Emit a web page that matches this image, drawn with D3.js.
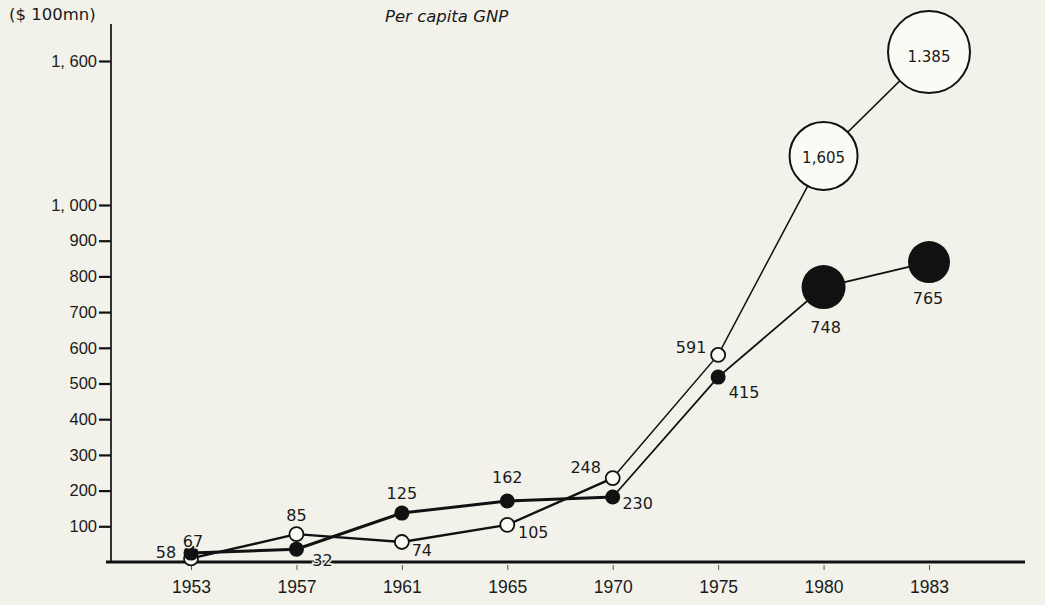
<!DOCTYPE html>
<html>
<head>
<meta charset="utf-8">
<script src="https://cdn.jsdelivr.net/npm/d3@7"></script>
<style>
  html, body { margin: 0; padding: 0; background: #f2f2eb; }
  svg { display: block; font-family: "DejaVu Sans", sans-serif; }
</style>
</head>
<body>
<div id="chart"></div>
<script>
// years along the bottom (evenly spaced, not a time scale)
const years = ["1953", "1957", "1961", "1965", "1970", "1975", "1980", "1983"];

// plotted heights (the printed labels don't sit exactly on them)
const openVals = [10, 78, 56, 104, 235, 580, 1204, 1637];
const solidVals = [25, 36, 137, 171, 182, 518, 770, 840];

// labels as printed
const openLabels = ["67", "85", "74", "105", "248", "591", "1,605", "1.385"];
const solidLabels = ["58", "32", "125", "162", "230", "415", "748", "765"];

// y axis is broken above 1,000
const yTicks = [100, 200, 300, 400, 500, 600, 700, 800, 900, 1000, 1600];
const yTickText = ["100", "200", "300", "400", "500", "600", "700", "800", "900", "1, 000", "1, 600"];

const width = 1045, height = 605;
const margin = {top: 28, right: 20, bottom: 43, left: 111};
const bg = "#f2f2eb";

const x = d3.scalePoint()
  .domain(years)
  .range([191, 929]);

const y = d3.scaleLinear()
  .domain([0, 1000, 1600])
  .range([height - margin.bottom, 205, 61]);

const svg = d3.select("#chart")
  .append("svg")
  .attr("width", width)
  .attr("height", height)
  .attr("viewBox", [0, 0, width, height]);

// axes
const y0 = y(0);
svg.append("line")
  .attr("x1", margin.left).attr("x2", margin.left)
  .attr("y1", margin.top - 4).attr("y2", y0)
  .attr("stroke", "#111").attr("stroke-width", 1.7);
svg.append("line")
  .attr("x1", margin.left - 5).attr("x2", width - margin.right)
  .attr("y1", y0).attr("y2", y0)
  .attr("stroke", "#111").attr("stroke-width", 2.8);

const yAxis = d3.axisLeft(y)
  .tickValues(yTicks)
  .tickSize(12)
  .tickPadding(2)
  .tickFormat((d, i) => yTickText[i]);

svg.append("g")
  .attr("transform", `translate(${margin.left},0)`)
  .call(yAxis)
  .call(g => g.select(".domain").remove())
  .call(g => g.selectAll(".tick line").attr("stroke", "#111").attr("stroke-width", 2.2))
  .call(g => g.selectAll(".tick text")
    .attr("fill", "#1a1a1a")
    .attr("font-size", 16.5));

const xAxis = d3.axisBottom(x)
  .tickSize(5)
  .tickPadding(11);

svg.append("g")
  .attr("transform", `translate(0,${y0 + 3})`)
  .call(xAxis)
  .call(g => g.select(".domain").remove())
  .call(g => g.selectAll(".tick line").attr("stroke", "#555").attr("stroke-width", 1))
  .call(g => g.selectAll(".tick text")
    .attr("fill", "#1a1a1a")
    .attr("font-size", 17.5));

// unit + title
svg.append("text")
  .attr("x", 9).attr("y", 20)
  .attr("font-size", 16.5)
  .attr("fill", "#1a1a1a")
  .text("($ 100mn)");

svg.append("text")
  .attr("x", 385).attr("y", 22)
  .attr("font-size", 16.5)
  .attr("font-style", "italic")
  .attr("fill", "#1a1a1a")
  .text("Per capita GNP");

// series
const openData = years.map((yr, i) => ({yr, v: openVals[i], label: openLabels[i], i}));
const solidData = years.map((yr, i) => ({yr, v: solidVals[i], label: solidLabels[i], i}));

// small markers except the last two years, which get big circles
const openR = d => d.yr === "1983" ? 41 : d.yr === "1980" ? 34 : 7;
const solidR = d => d.yr === "1983" ? 21 : d.yr === "1980" ? 22 : 7.5;

const line = d3.line()
  .x(d => x(d.yr))
  .y(d => y(d.v));

// solid series: heavier up to 1970, thinner after
svg.append("path")
  .datum(solidData.slice(0, 5))
  .attr("d", line)
  .attr("fill", "none")
  .attr("stroke", "#111")
  .attr("stroke-width", 3);
svg.append("path")
  .datum(solidData.slice(4))
  .attr("d", line)
  .attr("fill", "none")
  .attr("stroke", "#111")
  .attr("stroke-width", 1.8);

svg.append("path")
  .datum(openData.slice(0, 5))
  .attr("d", line)
  .attr("fill", "none")
  .attr("stroke", "#111")
  .attr("stroke-width", 2.4);
svg.append("path")
  .datum(openData.slice(4))
  .attr("d", line)
  .attr("fill", "none")
  .attr("stroke", "#111")
  .attr("stroke-width", 1.5);

svg.append("g")
  .selectAll("circle")
  .data(openData)
  .join("circle")
  .attr("cx", d => x(d.yr))
  .attr("cy", d => y(d.v))
  .attr("r", openR)
  .attr("fill", "#fbfbf6")
  .attr("stroke", "#111")
  .attr("stroke-width", d => d.i >= 6 ? 2 : 1.8);

svg.append("g")
  .selectAll("circle")
  .data(solidData)
  .join("circle")
  .attr("cx", d => x(d.yr))
  .attr("cy", d => y(d.v))
  .attr("r", solidR)
  .attr("fill", "#111");

// label offsets from each marker (dx, dy to text centre)
const openOff = [[2, -17], [0, -19], [20, 8], [26, 8], [-27, -11], [-27, -7], [0, 2], [0, 5]];
const solidOff = [[-25, -1], [26, 11], [0, -20], [0, -23], [25, 6], [26, 15], [2, 40], [-1, 36]];

const labelText = (data, off) => svg.append("g")
  .selectAll("text")
  .data(data)
  .join("text")
  .attr("x", d => x(d.yr) + off[d.i][0])
  .attr("y", d => y(d.v) + off[d.i][1])
  .attr("text-anchor", "middle")
  .attr("dominant-baseline", "central")
  .attr("font-size", d => d.i >= 6 && data === openData ? 15 : 16)
  .attr("fill", "#1a1a1a")
  .attr("stroke", d => d.i >= 6 && data === openData ? "none" : bg)
  .attr("stroke-width", 3)
  .attr("paint-order", "stroke")
  .text(d => d.label);

labelText(openData, openOff);
labelText(solidData, solidOff);
</script>
</body>
</html>
